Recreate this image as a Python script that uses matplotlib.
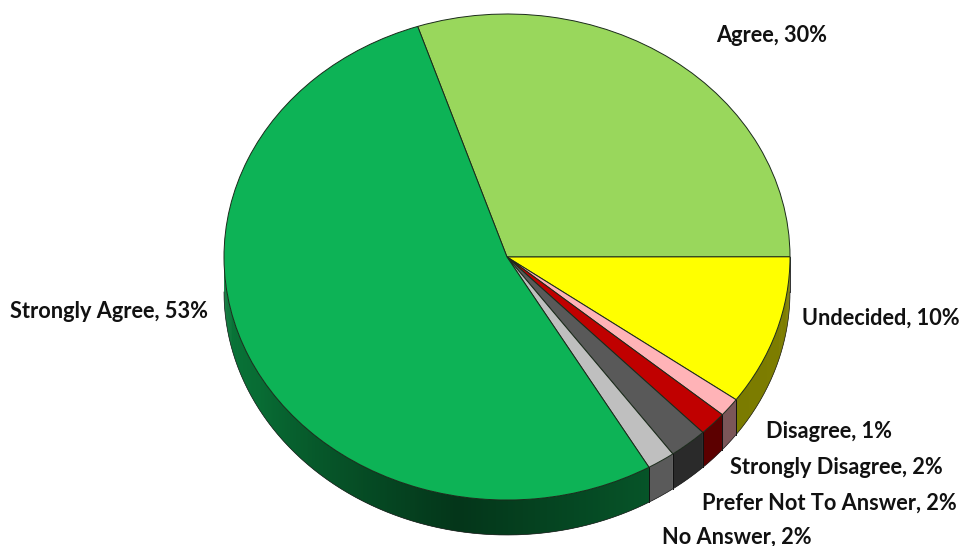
import numpy as np
import matplotlib
matplotlib.use('Agg')
import matplotlib.pyplot as plt

W, H = 966, 546

# Data, clockwise from the Agree slice (slices, labels round them)
names = ['Agree', 'Undecided', 'Disagree', 'Strongly Disagree',
         'Prefer Not To Answer', 'No Answer', 'Strongly Agree']
values = [30.1, 10, 1.25, 1.6, 2.2, 1.6, 53.25]
colors = ['#99D75C', '#FFFF00', '#FFB3B7', '#C00000', '#595959', '#BFBFBF', '#0DB356']
label_pos = [(716, 36), (802, 318), (766, 431), (730, 468), (702, 503), (662, 537), (10, 312)]

# Pie ellipse in pixels
cx, cy, rx, ry = 507, 257, 283, 243
depth = 35 / ry

fig = plt.figure(figsize=(W / 100, H / 100), dpi=100)
ax = fig.add_axes([0, 0, 1, 1])

wedges, _ = ax.pie(values, colors=colors, startangle=108.4, counterclock=False,
                   radius=1, wedgeprops={'edgecolor': '#1a2a1a', 'linewidth': 0.7, 'zorder': 5})
ax.set_aspect('auto')
ax.set_xlim(-cx / rx, (W - cx) / rx)
ax.set_ylim(-(H - cy) / ry, cy / ry)
ax.axis('off')


def shade(theta):
    # side wall gets darker towards the bottom of the pie
    return np.interp(theta, [-180, -150, -100, -60, 0], [0.68, 0.6, 0.3, 0.47, 0.5])


# Side wall, only the front half of the disc is visible
for w, c in zip(wedges, colors):
    t1, t2 = min(w.theta1, w.theta2), max(w.theta1, w.theta2)
    t1, t2 = max(t1, -180), min(t2, 0)
    if t2 <= t1:
        continue
    rgb = np.array(matplotlib.colors.to_rgb(c))
    edges = np.linspace(t1, t2, max(int(t2 - t1) * 2, 2) + 1)
    step = edges[1] - edges[0]
    for i, (a, b) in enumerate(zip(edges[:-1], edges[1:])):
        # overlap the next strip so no seams show
        end = min(b + step, t2)
        ang = np.radians([a, end, end, a])
        xs = np.cos(ang)
        ys = np.sin(ang) - np.array([0, 0, depth, depth])
        ax.fill(xs, ys, color=rgb * shade((a + b) / 2), lw=0, zorder=2 + i * 1e-4)
    for t in (t1, t2):
        if t > -180:
            r = np.radians(t)
            ax.plot([np.cos(r)] * 2, [np.sin(r), np.sin(r) - depth], color='#111111', lw=0.6, zorder=3)

# Outer rim of the wall
rim = np.radians(np.linspace(-180, 0, 400))
ax.plot(np.cos(rim), np.sin(rim) - depth, color='#222222', lw=0.5, zorder=4)

for name, v, (px, py) in zip(names, values, label_pos):
    fig.text(px / W, 1 - py / H, f'{name}, {v:.0f}%', family='Lato', weight='bold',
             fontsize=15.7, color='#111111', ha='left', va='center')

fig.savefig('out.png', dpi=100, facecolor='white')
